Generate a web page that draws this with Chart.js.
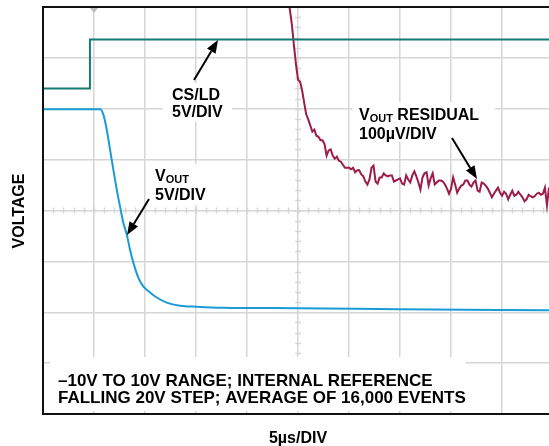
<!DOCTYPE html>
<html>
<head>
<meta charset="utf-8">
<script src="https://cdn.jsdelivr.net/npm/chart.js@4.4.1/dist/chart.umd.min.js"></script>
<style>
  html, body { margin: 0; padding: 0; background: #ffffff; }
  canvas { display: block; }
</style>
</head>
<body>
<canvas id="scope" width="549" height="446"></canvas>
<script>
// Horizontal: time in µs, 5 µs per division
const timeTicks = [0, 5, 10, 15, 20, 25, 30, 35, 40, 45];
// Vertical: VOUT channel in volts, 5 V per division
const voltTicks = [-20, -15, -10, -5, 0, 5, 10, 15, 20];

// CS/LD logic trace (own channel offset, 5 V/DIV)
const csldTime = [0, 4.6, 4.6, 49.6];
const csldVolts = [0, 0, 4.8, 4.8];

// VOUT falling 20 V step
const voutTime = [0, 5.29, 5.59, 5.91, 6.25, 6.57, 6.89, 7.23, 7.55, 7.87, 8.21, 8.53,
  8.85, 9.34, 9.83, 10.49, 11.15, 12.13, 13.43, 15.07, 17.65, 25.0, 35.0, 49.6];
const voutVolts = [9.95, 9.95, 9.95, 9.45, 7.95, 6.0, 4.05, 2.05, 0.4, -1.2, -2.35, -3.85,
  -5.1, -6.6, -7.45, -8.05, -8.55, -9.05, -9.35, -9.45, -9.55, -9.6, -9.7, -9.8];

// VOUT residual, 100 µV/DIV, sampled every 0.2 µs from 24 µs
const residualStart = 24.0;
const residualStep = 0.2;
const residualMicroVolts = [
  420, 395, 365, 324, 287, 257, 253, 236, 212, 189,
  179, 167, 155, 159, 147, 145, 138, 138, 130, 108,
  118, 120, 108, 102, 106, 98, 96, 90, 84, 84,
  84, 81, 84, 75, 79, 79, 71, 67, 57, 51,
  61, 84, 88, 57, 53, 65, 65, 73, 69, 67,
  69, 69, 57, 59, 61, 63, 53, 51, 69, 61,
  55, 69, 77, 67, 55, 41, 65, 73, 75, 49,
  63, 73, 51, 55, 59, 59, 57, 51, 43, 33,
  43, 65, 51, 35, 43, 49, 51, 59, 59, 51,
  47, 55, 59, 39, 37, 55, 53, 49, 43, 35,
  26, 33, 39, 45, 35, 29, 37, 33, 22, 31,
  39, 29, 31, 37, 31, 26, 18, 22, 31, 28,
  26, 28, 33, 35, 31, 33, 45, 10, 45
];

const GRID = 'rgb(214,214,214)';
const FONT = '"Liberation Sans", Arial, Helvetica, sans-serif';

const toPoints = (xs, ys) => xs.map((t, i) => ({ x: t, y: ys[i] }));
const residualPoints = residualMicroVolts.map((v, i) => ({
  x: +(residualStart + i * residualStep).toFixed(2), y: v
}));

function drawArrow(ctx, x0, y0, x1, y1) {
  const ang = Math.atan2(y1 - y0, x1 - x0);
  const len = 13, half = 5;
  const bx = x1 - len * Math.cos(ang), by = y1 - len * Math.sin(ang);
  ctx.beginPath();
  ctx.moveTo(x0, y0);
  ctx.lineTo(bx, by);
  ctx.lineWidth = 2;
  ctx.strokeStyle = '#000';
  ctx.stroke();
  ctx.beginPath();
  ctx.moveTo(x1, y1);
  ctx.lineTo(bx + half * Math.sin(ang), by - half * Math.cos(ang));
  ctx.lineTo(bx - half * Math.sin(ang), by + half * Math.cos(ang));
  ctx.closePath();
  ctx.fillStyle = '#000';
  ctx.fill();
}

// "V" with an "OUT" subscript, returns the x after it
function drawVout(ctx, x, y) {
  ctx.font = 'bold 16px ' + FONT;
  ctx.fillText('V', x, y);
  const w = ctx.measureText('V').width;
  ctx.font = 'bold 11px ' + FONT;
  ctx.fillText('OUT', x + w, y + 2);
  return x + w + ctx.measureText('OUT').width;
}

const scopeDecor = {
  id: 'scopeDecor',
  beforeDatasetsDraw(chart) {
    const { ctx, chartArea: a, scales } = chart;
    const sx = scales.x, sy = scales.y;
    ctx.save();
    // minor ticks along the centre cross-hair
    ctx.strokeStyle = GRID;
    ctx.lineWidth = 1.5;
    const cx = sx.getPixelForValue(25);
    const cy = sy.getPixelForValue(0);
    ctx.beginPath();
    for (let v = -20; v <= 20; v += 1) {
      const py = Math.round(sy.getPixelForValue(v)) + 0.5;
      ctx.moveTo(cx - 3, py); ctx.lineTo(cx + 3, py);
    }
    for (let t = 0; t <= 49.6; t += 1) {
      const px = Math.round(sx.getPixelForValue(t)) + 0.5;
      ctx.moveTo(px, cy - 3); ctx.lineTo(px, cy + 3);
    }
    ctx.stroke();
    // label backgrounds
    ctx.fillStyle = '#ffffff';
    ctx.fillRect(163, 83, 69, 39);
    ctx.fillRect(150, 164, 66, 41);
    ctx.fillRect(352, 102, 143, 40);
    ctx.fillRect(50, 357, 416, 54);
    // trigger marker
    const tx = sx.getPixelForValue(5);
    ctx.fillStyle = '#bdbdbd';
    ctx.beginPath();
    ctx.moveTo(tx - 4, a.top + 1);
    ctx.lineTo(tx + 4, a.top + 1);
    ctx.lineTo(tx, a.top + 6);
    ctx.closePath();
    ctx.fill();
    ctx.restore();
  },
  afterDatasetsDraw(chart) {
    const { ctx, chartArea: a } = chart;
    ctx.save();
    // frame: left, top and bottom edges
    ctx.strokeStyle = '#111';
    ctx.lineWidth = 2;
    ctx.beginPath();
    ctx.moveTo(a.right + 1, a.top);
    ctx.lineTo(a.left, a.top);
    ctx.lineTo(a.left, a.bottom);
    ctx.lineTo(a.right + 1, a.bottom);
    ctx.stroke();

    ctx.fillStyle = '#000';
    ctx.textAlign = 'left';
    ctx.textBaseline = 'alphabetic';

    // CS/LD label
    ctx.font = 'bold 16px ' + FONT;
    ctx.fillText('CS/LD', 172, 100);
    ctx.fillText('5V/DIV', 172, 117);
    drawArrow(ctx, 194, 80, 218, 40);

    // VOUT label
    drawVout(ctx, 155, 181);
    ctx.font = 'bold 16px ' + FONT;
    ctx.fillText('5V/DIV', 155, 200);
    drawArrow(ctx, 149, 199, 127, 235);

    // residual label
    const after = drawVout(ctx, 359, 120);
    ctx.font = 'bold 16px ' + FONT;
    ctx.fillText(' RESIDUAL', after, 120);
    ctx.fillText('100µV/DIV', 359, 139);
    drawArrow(ctx, 452, 138, 477, 179);

    // conditions note
    ctx.font = 'bold 17px ' + FONT;
    ctx.fillText('–10V TO 10V RANGE; INTERNAL REFERENCE', 58, 386);
    ctx.fillText('FALLING 20V STEP; AVERAGE OF 16,000 EVENTS', 58, 403);

    // axis titles
    ctx.font = 'bold 16px ' + FONT;
    ctx.textAlign = 'center';
    ctx.fillText('5µs/DIV', 298, 443);
    ctx.translate(24, 211);
    ctx.rotate(-Math.PI / 2);
    ctx.fillText('VOLTAGE', 0, 0);
    ctx.restore();
  }
};

const gridOpts = { color: GRID, lineWidth: 1.5, drawTicks: false };

new Chart(document.getElementById('scope'), {
  type: 'line',
  data: {
    datasets: [
      {
        label: 'CS/LD',
        data: toPoints(csldTime, csldVolts),
        yAxisID: 'yCs',
        borderColor: '#157a70',
        borderWidth: 2,
        tension: 0
      },
      {
        label: 'VOUT',
        data: toPoints(voutTime, voutVolts),
        yAxisID: 'y',
        borderColor: '#1b9ad6',
        borderWidth: 2,
        cubicInterpolationMode: 'monotone'
      },
      {
        label: 'VOUT RESIDUAL',
        data: residualPoints,
        yAxisID: 'yRes',
        borderColor: '#9b1d48',
        borderWidth: 2,
        tension: 0
      }
    ]
  },
  options: {
    responsive: false,
    devicePixelRatio: 1,
    animation: false,
    events: [],
    layout: { padding: { left: 43, top: 7, right: 0, bottom: 32 } },
    elements: { point: { radius: 0 } },
    plugins: { legend: { display: false }, tooltip: { enabled: false } },
    scales: {
      x: {
        type: 'linear',
        min: 0,
        max: 49.6,
        afterBuildTicks: s => { s.ticks = timeTicks.map(v => ({ value: v })); },
        grid: gridOpts,
        border: { display: false },
        ticks: { display: false }
      },
      y: {
        type: 'linear',
        min: -20,
        max: 20,
        afterBuildTicks: s => { s.ticks = voltTicks.map(v => ({ value: v })); },
        grid: gridOpts,
        border: { display: false },
        ticks: { display: false }
      },
      yCs: { type: 'linear', min: -32, max: 8, display: false },
      yRes: { type: 'linear', min: -400, max: 400, display: false }
    }
  },
  plugins: [scopeDecor]
});
</script>
</body>
</html>
